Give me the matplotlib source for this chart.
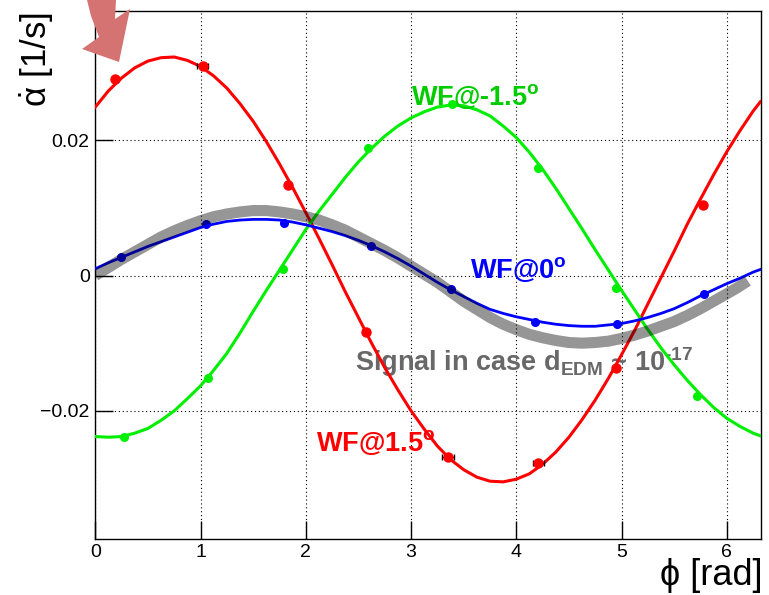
import matplotlib
matplotlib.use("Agg")
import matplotlib.pyplot as plt
from matplotlib.patches import Polygon

plt.rcParams["font.family"] = ["Liberation Sans", "DejaVu Sans"]
plt.rcParams["mathtext.fontset"] = "custom"
plt.rcParams["mathtext.rm"] = "Liberation Sans"
plt.rcParams["mathtext.bf"] = "Liberation Sans:bold"
plt.rcParams["mathtext.it"] = "Liberation Sans:italic"

# fitted curves
curve_x = [0.0, 0.125, 0.25, 0.375, 0.5, 0.625, 0.75, 0.875, 1.0, 1.125, 1.25, 1.375, 1.5,
           1.625, 1.75, 1.875, 2.0, 2.125, 2.25, 2.375, 2.5, 2.625, 2.75, 2.875, 3.0, 3.125,
           3.25, 3.375, 3.5, 3.625, 3.75, 3.875, 4.0, 4.125, 4.25, 4.375, 4.5, 4.625, 4.75,
           4.875, 5.0, 5.125, 5.25, 5.375, 5.5, 5.625, 5.75, 5.875, 6.0, 6.125, 6.25, 6.32]
red_curve = [0.0249, 0.0273, 0.0292, 0.0307, 0.0317, 0.0322, 0.0323, 0.0318, 0.0309, 0.0295,
             0.0277, 0.0254, 0.0228, 0.0198, 0.0165, 0.0130, 0.0093, 0.0055, 0.0016, -0.0024,
             -0.0062, -0.0100, -0.0136, -0.0169, -0.0200, -0.0227, -0.0252, -0.0272, -0.0287,
             -0.0298, -0.0304, -0.0305, -0.0301, -0.0293, -0.0279, -0.0261, -0.0239, -0.0213,
             -0.0184, -0.0152, -0.0117, -0.0081, -0.0042, -0.0003, 0.0036, 0.0076, 0.0113,
             0.0149, 0.0183, 0.0214, 0.0243, 0.0257]
green_curve = [-0.0238, -0.0239, -0.0238, -0.0233, -0.0226, -0.0214, -0.0200, -0.0182, -0.0163,
               -0.0140, -0.0115, -0.0085, -0.0053, -0.0022, 0.0008, 0.0038, 0.0068, 0.0095,
               0.0120, 0.0145, 0.0168, 0.0188, 0.0206, 0.0221, 0.0233, 0.0242, 0.0249, 0.0252,
               0.0251, 0.0245, 0.0236, 0.0221, 0.0204, 0.0182, 0.0157, 0.0129, 0.0099, 0.0069,
               0.0038, 0.0008, -0.0022, -0.0051, -0.0080, -0.0107, -0.0132, -0.0155, -0.0176,
               -0.0195, -0.0211, -0.0223, -0.0233, -0.0237]
blue_curve = [0.0010, 0.0019, 0.0027, 0.0035, 0.0043, 0.0050, 0.0057, 0.0064, 0.0071, 0.0076,
              0.0080, 0.0082, 0.0083, 0.0083, 0.0082, 0.0079, 0.0075, 0.0070, 0.0065, 0.0059,
              0.0052, 0.0044, 0.0035, 0.0025, 0.0014, 0.0002, -0.0010, -0.0021, -0.0031,
              -0.0041, -0.0050, -0.0056, -0.0061, -0.0065, -0.0069, -0.0072, -0.0074, -0.0075,
              -0.0075, -0.0073, -0.0071, -0.0067, -0.0062, -0.0056, -0.0049, -0.0040, -0.0030,
              -0.0021, -0.0012, -0.0004, 0.0005, 0.0009]

# expected EDM signal band
signal_x = [0.0, 0.125, 0.25, 0.375, 0.5, 0.625, 0.75, 0.875, 1.0, 1.125, 1.25, 1.375, 1.5,
            1.625, 1.75, 1.875, 2.0, 2.125, 2.25, 2.375, 2.5, 2.625, 2.75, 2.875, 3.0, 3.125,
            3.25, 3.375, 3.5, 3.625, 3.75, 3.875, 4.0, 4.125, 4.25, 4.375, 4.5, 4.625, 4.75,
            4.875, 5.0, 5.125, 5.25, 5.375, 5.5, 5.625, 5.75, 5.875, 6.0, 6.1, 6.2]
signal_y = [0.0000, 0.0012, 0.0024, 0.0035, 0.0046, 0.0057, 0.0066, 0.0074, 0.0081, 0.0087,
            0.0091, 0.0094, 0.0096, 0.0096, 0.0094, 0.0091, 0.0087, 0.0082, 0.0075, 0.0067,
            0.0057, 0.0047, 0.0037, 0.0026, 0.0014, 0.0002, -0.0010, -0.0024, -0.0038,
            -0.0050, -0.0062, -0.0072, -0.0080, -0.0087, -0.0092, -0.0096, -0.0099, -0.0100,
            -0.0099, -0.0097, -0.0093, -0.0088, -0.0082, -0.0075, -0.0068, -0.0059, -0.0049,
            -0.0038, -0.0027, -0.0018, -0.0008]

# measured points
red_px = [0.19, 1.02, 1.83, 2.57, 3.35, 4.21, 4.95, 5.77]
red_py = [0.0290, 0.0309, 0.0134, -0.0083, -0.0268, -0.0277, -0.0137, 0.0104]
red_xerr = [0.0, 0.055, 0.0, 0.0, 0.055, 0.05, 0.0, 0.0]
green_px = [0.275, 1.07, 1.78, 2.59, 3.39, 4.21, 4.95, 5.72]
green_py = [-0.0238, -0.0152, 0.0009, 0.0189, 0.0254, 0.0159, -0.0018, -0.0178]
blue_px = [0.24, 1.05, 1.79, 2.62, 3.38, 4.18, 4.96, 5.78]
blue_py = [0.0028, 0.0076, 0.0078, 0.0044, -0.0020, -0.0068, -0.0072, -0.0027]

W, H = 769, 595
fig = plt.figure(figsize=(W / 100, H / 100), dpi=100)
ax = fig.add_axes([95.3 / W, 1 - 538.7 / H, (761 - 95.3) / W, (538.7 - 11) / H])

ax.plot(curve_x, red_curve, color="#ff0000", lw=2.2, zorder=3)
ax.plot(curve_x, green_curve, color="#00ee00", lw=2.2, zorder=3)
ax.plot(curve_x, blue_curve, color="#0000ff", lw=2.0, zorder=3)

ax.errorbar(red_px, red_py, xerr=red_xerr, fmt="none", ecolor="black",
            elinewidth=1, capsize=2.5, capthick=1, zorder=3.5)
ax.plot(red_px, red_py, "o", color="#ff0000", ms=6.5, zorder=4)
ax.plot(green_px, green_py, "o", color="#00ee00", ms=5.5, zorder=4)
ax.plot(blue_px, blue_py, "o", color="#0000ff", ms=5.5, zorder=4)

ax.plot(signal_x, signal_y, color="black", alpha=0.41, lw=8,
        solid_capstyle="butt", zorder=5)

txt = dict(fontsize=19.5, fontweight="bold", va="baseline", zorder=6)
ax.text(3.0, 0.0252, r"WF@-1.5$^{\mathbf{o}}$", color="#00cc00", **txt)
ax.text(3.56, -0.0004, r"WF@0$^{\mathbf{o}}$", color="#0000ff", **txt)
ax.text(2.10, -0.0259, r"WF@1.5$^{\mathbf{o}}$", color="#ff0000", **txt)
ax.text(2.47, -0.0141, "Signal in case d$_{\\mathbf{EDM}}$ ~ 10$^{\\mathbf{\u201017}}$",
        color="#686868", fontsize=19.5, fontweight="bold", va="baseline", zorder=2)

ax.set_xlim(0, 6.325)
ax.set_ylim(-0.0389, 0.0391)
ax.set_xticks([0, 1, 2, 3, 4, 5, 6])
ax.set_yticks([-0.02, 0, 0.02])
ax.set_yticklabels(["\u22120.02", "0", "0.02"])
ax.tick_params(direction="in", length=13, width=1, labelsize=14, pad=4)
ax.grid(True, color="black", linestyle=(0, (1, 2.5)), linewidth=0.8)
for s in ax.spines.values():
    s.set_linewidth(1)

fig.text(763 / W, 1 - 585 / H, "\u03d5 [rad]", fontsize=26, ha="right", va="baseline")
fig.text(37.5 / W, 1 - 12 / H, r"$\dot{\mathrm{\alpha}}$ [1/s]", fontsize=25,
         rotation=90, ha="center", va="top")

# pointer arrow at the top left
arrow_px = [(87, 0), (116, 0), (115, 19), (130, 9), (119, 62), (82, 49), (99, 37), (91, 16)]
arrow_pts = [(x / W, 1 - y / H) for x, y in arrow_px]
fig.add_artist(Polygon(arrow_pts, closed=True, transform=fig.transFigure,
                       facecolor="#d57373", edgecolor="none", zorder=10))

fig.savefig("out.png", dpi=100)
